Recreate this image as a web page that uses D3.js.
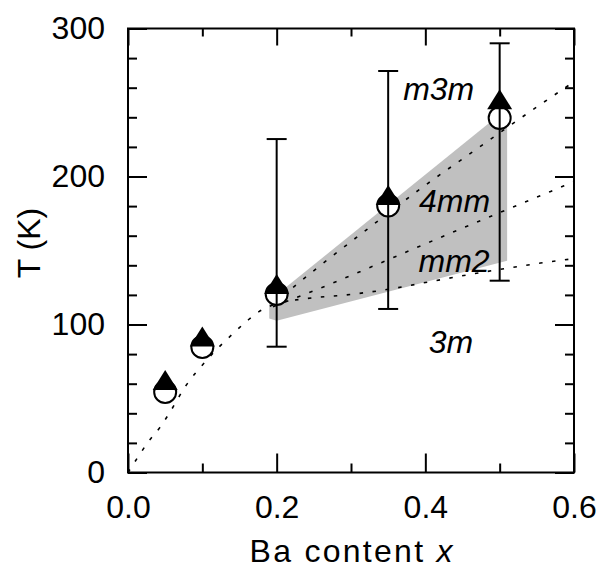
<!DOCTYPE html>
<html>
<head>
<meta charset="utf-8">
<script src="https://cdn.jsdelivr.net/npm/d3@7"></script>
<style>
  html, body { margin: 0; padding: 0; background: #fff; }
  text { font-family: "Liberation Sans", Arial, Helvetica, sans-serif; }
</style>
</head>
<body>
<svg id="chart" width="602" height="570"></svg>
<script>
// ---- data ----
const xMajorTicks = [0, 0.2, 0.4, 0.6];
const xMinorTicks = [0.1, 0.3, 0.5];
const yMajorTicks = [0, 100, 200, 300];
const yMinorTicks = [20, 40, 60, 80, 120, 140, 160, 180, 220, 240, 260, 280];

const baX = [0.05, 0.1, 0.2, 0.35, 0.5];
const triangleT = [62.5, 91.9, 127.4, 187.5, 252.2];
const circleT = [54.4, 84.8, 120.6, 180.4, 239.5];

const errX = [0.2, 0.35, 0.5];
const errLow = [85, 110.5, 129.6];
const errHigh = [225.3, 271.3, 290];

// shaded region outline (x, T)
const shadeX = [0.19, 0.51, 0.51, 0.2, 0.19];
const shadeT = [116, 246, 143, 102.5, 104];

// phase boundaries (dotted)
const bUpperX = [0.195, 0.254, 0.326, 0.397, 0.476, 0.55, 0.6];
const bUpperT = [114, 138, 166, 193, 221, 247, 264];
const bMiddleX = [0.195, 0.256, 0.33, 0.44, 0.514, 0.6];
const bMiddleT = [112, 124, 139.5, 163, 178.5, 196.5];
const bLowerX = [0, 0.0135, 0.027, 0.043, 0.055, 0.077, 0.106, 0.142, 0.161, 0.178, 0.2, 0.24, 0.294, 0.348, 0.407, 0.462, 0.516, 0.555, 0.6];
const bLowerT = [0, 10.5, 20.6, 30.5, 39.6, 58, 76, 94.2, 102.8, 109.3, 114, 117.5, 120, 123.6, 129, 134, 138.5, 141.5, 144.5];

const phaseLabels = ["m3m", "4mm", "mm2", "3m"];
const phaseX = [0.418, 0.4393, 0.4386, 0.4346];
const phaseT = [251.7, 176.2, 135.7, 80.5];

(function () {
// ---- layout ----
const svg = d3.select("#chart");
const pL = 128, pR = 574, pT = 28.5, pB = 472.5;
const x = d3.scaleLinear().domain([0, 0.6]).range([pL, pR]);
const y = d3.scaleLinear().domain([0, 300]).range([pB, pT]);
const FS = 32;

// shaded region
svg.append("path")
  .attr("d", d3.line()(shadeX.map((v, i) => [x(v), y(shadeT[i])])) + "Z")
  .attr("fill", "#c0c0c0");

// dotted boundaries
const lineGen = d3.line().curve(d3.curveMonotoneX);
[[bUpperX, bUpperT], [bMiddleX, bMiddleT], [bLowerX, bLowerT]].forEach(([xs, ts]) => {
  svg.append("path")
    .attr("d", lineGen(xs.map((v, i) => [x(v), y(ts[i])])))
    .attr("fill", "none")
    .attr("stroke", "#000")
    .attr("stroke-width", 1.6)
    .attr("stroke-dasharray", "3.5,9.5");
});

// axes (inward ticks)
function styleAxis(g) {
  g.select(".domain").remove();
  g.selectAll(".tick line").attr("stroke", "#000").attr("stroke-width", 2);
  g.selectAll(".tick text").attr("font-size", FS).attr("fill", "#000")
    .attr("font-family", '"Liberation Sans", Arial, sans-serif');
}
svg.append("g").attr("transform", `translate(0,${pB})`)
  .call(d3.axisBottom(x).tickValues(xMajorTicks).tickSize(-19).tickPadding(23).tickFormat(d3.format(".1f")))
  .call(styleAxis);
svg.append("g").attr("transform", `translate(0,${pB})`)
  .call(d3.axisBottom(x).tickValues(xMinorTicks).tickSize(-9).tickFormat(""))
  .call(styleAxis);
svg.append("g").attr("transform", `translate(0,${pT})`)
  .call(d3.axisTop(x).tickValues(xMajorTicks).tickSize(-17).tickFormat(""))
  .call(styleAxis);
svg.append("g").attr("transform", `translate(0,${pT})`)
  .call(d3.axisTop(x).tickValues(xMinorTicks).tickSize(-8).tickFormat(""))
  .call(styleAxis);
svg.append("g").attr("transform", `translate(${pL},0)`)
  .call(d3.axisLeft(y).tickValues(yMajorTicks).tickSize(-19).tickPadding(23).tickFormat(d3.format("d")))
  .call(styleAxis);
svg.append("g").attr("transform", `translate(${pL},0)`)
  .call(d3.axisLeft(y).tickValues(yMinorTicks).tickSize(-9).tickFormat(""))
  .call(styleAxis);
svg.append("g").attr("transform", `translate(${pR},0)`)
  .call(d3.axisRight(y).tickValues(yMajorTicks).tickSize(-19).tickFormat(""))
  .call(styleAxis);
svg.append("g").attr("transform", `translate(${pR},0)`)
  .call(d3.axisRight(y).tickValues(yMinorTicks).tickSize(-9).tickFormat(""))
  .call(styleAxis);

// frame
svg.append("rect")
  .attr("x", pL).attr("y", pT)
  .attr("width", pR - pL).attr("height", pB - pT)
  .attr("fill", "none").attr("stroke", "#000").attr("stroke-width", 2);

// open circles
svg.selectAll("circle.open").data(baX).join("circle")
  .attr("class", "open")
  .attr("cx", d => x(d)).attr("cy", (d, i) => y(circleT[i]))
  .attr("r", 11)
  .attr("fill", "#fff").attr("stroke", "#000").attr("stroke-width", 2);

// error bars
const eb = svg.append("g").attr("stroke", "#000").attr("stroke-width", 2);
errX.forEach((v, i) => {
  eb.append("line").attr("x1", x(v)).attr("x2", x(v)).attr("y1", y(errLow[i])).attr("y2", y(errHigh[i]));
  eb.append("line").attr("x1", x(v) - 10).attr("x2", x(v) + 10).attr("y1", y(errLow[i])).attr("y2", y(errLow[i]));
  eb.append("line").attr("x1", x(v) - 10).attr("x2", x(v) + 10).attr("y1", y(errHigh[i])).attr("y2", y(errHigh[i]));
});

// filled triangles
svg.selectAll("path.tri").data(baX).join("path")
  .attr("class", "tri")
  .attr("d", (d, i) => {
    const cx = x(d), cy = y(triangleT[i]);
    return `M${cx},${cy - 10}L${cx + 12.5},${cy + 10}L${cx - 12.5},${cy + 10}Z`;
  })
  .attr("fill", "#000");

// phase labels
svg.selectAll("text.phase").data(phaseLabels).join("text")
  .attr("class", "phase")
  .attr("x", (d, i) => x(phaseX[i])).attr("y", (d, i) => y(phaseT[i]))
  .attr("text-anchor", "middle")
  .attr("font-size", FS).attr("font-style", "italic")
  .text(d => d);

// axis titles
const xt = svg.append("text")
  .attr("x", (pL + pR) / 2).attr("y", 561.5)
  .attr("text-anchor", "middle").attr("font-size", FS)
  .attr("textLength", 203).attr("lengthAdjust", "spacing");
xt.append("tspan").text("Ba content ");
xt.append("tspan").attr("font-style", "italic").text("x");

svg.append("text")
  .attr("transform", "translate(40,243) rotate(-90)")
  .attr("text-anchor", "middle").attr("font-size", FS)
  .text("T (K)");
})();
</script>
</body>
</html>
